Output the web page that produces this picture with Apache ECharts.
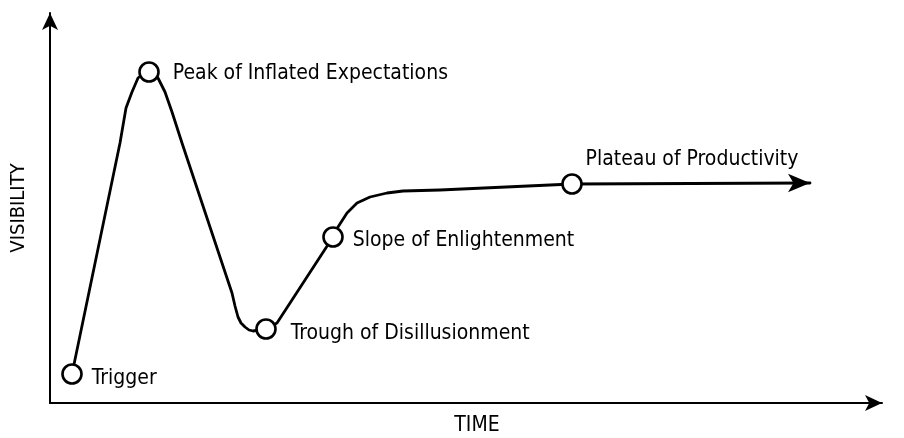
<!DOCTYPE html>
<html>
<head>
<meta charset="utf-8">
<script src="https://cdn.jsdelivr.net/npm/echarts@6/dist/echarts.min.js"></script>
<style>
  html, body { margin: 0; padding: 0; background: #fff; }
  .chart { width: 904px; height: 438px; }
</style>
</head>
<body>
<div class="chart"></div>
<script>
// curve (time, visibility)
var curveX = [22, 70, 76, 82, 88, 93, 99, 105, 108, 115, 122, 132, 182, 185, 188, 191, 195, 199, 203, 216, 227, 283, 288, 297, 307, 320, 337, 353, 390, 522, 760];
var curveY = [29, 260, 295, 311, 325, 329, 331, 329, 325, 311, 291, 260, 110, 97, 86, 80, 76, 73, 72, 74, 80, 166, 176, 190, 200, 206, 210, 212, 213, 219, 220];

// the five phases
var phases = ['Trigger', 'Peak of Inflated Expectations', 'Trough of Disillusionment', 'Slope of Enlightenment', 'Plateau of Productivity'];
var phaseX = [22, 99, 216, 283, 522];
var phaseY = [29, 331, 74, 166, 219];

var axisNames = ['TIME', 'VISIBILITY'];

(function () {
  var myChart = echarts.init(document.querySelector('.chart'))
  var font = '"Liberation Sans Narrow", "DejaVu Sans Condensed", sans-serif'

  var curve = curveX.map(function (x, i) { return [x, curveY[i]] })
  var last = curve[curve.length - 1]

  // label placement per phase
  var labelCfg = [
    { position: 'right', distance: 9, offset: [0, 5] },
    { position: 'right', distance: 13, offset: [0, 2] },
    { position: 'right', distance: 14, offset: [0, 5] },
    { position: 'right', distance: 9, offset: [0, 4] },
    { position: 'top', distance: 3, offset: [120, 0] }
  ]
  var points = phases.map(function (name, i) {
    return { name: name, value: [phaseX[i], phaseY[i]], label: labelCfg[i] }
  })

  var axisLine = {
    show: true,
    symbol: ['none', 'arrow'],
    symbolSize: [12, 17],
    lineStyle: { color: '#000', width: 2 }
  }

  var option = {
    animation: false,
    grid: { left: 50, right: 22, top: 13, bottom: 35, containLabel: false, outerBoundsMode: 'none' },
    xAxis: {
      type: 'value', min: 0, max: 832,
      name: axisNames[0], nameLocation: 'middle', nameGap: 12,
      nameTextStyle: { color: '#000', fontSize: 21, fontFamily: font, padding: [0, 0, 0, 22] },
      axisLine: axisLine,
      axisTick: { show: false }, axisLabel: { show: false }, splitLine: { show: false }
    },
    yAxis: {
      type: 'value', min: 0, max: 390,
      name: axisNames[1], nameLocation: 'middle', nameGap: 21,
      nameTextStyle: { color: '#000', fontSize: 20, fontFamily: font },
      axisLine: axisLine,
      axisTick: { show: false }, axisLabel: { show: false }, splitLine: { show: false }
    },
    series: [
      {
        type: 'line',
        data: curve,
        smooth: false,
        showSymbol: false,
        lineStyle: { color: '#000', width: 2.8, join: 'round', cap: 'round' },
        z: 2
      },
      {
        // arrow head at the end of the curve
        type: 'scatter',
        data: [last],
        symbol: 'arrow',
        symbolRotate: -90,
        symbolSize: [14, 22],
        symbolOffset: [0, 0],
        itemStyle: { color: '#000', opacity: 1 },
        z: 3
      },
      {
        type: 'scatter',
        data: points,
        symbol: 'circle',
        symbolSize: 19,
        itemStyle: { color: '#fff', borderColor: '#000', borderWidth: 2.6, opacity: 1 },
        label: {
          show: true,
          formatter: '{b}',
          color: '#000',
          fontSize: 21,
          fontFamily: font
        },
        z: 4
      }
    ]
  }
  myChart.setOption(option)

  window.addEventListener('resize', function () {
    myChart.resize()
  })
})();
</script>
</body>
</html>
